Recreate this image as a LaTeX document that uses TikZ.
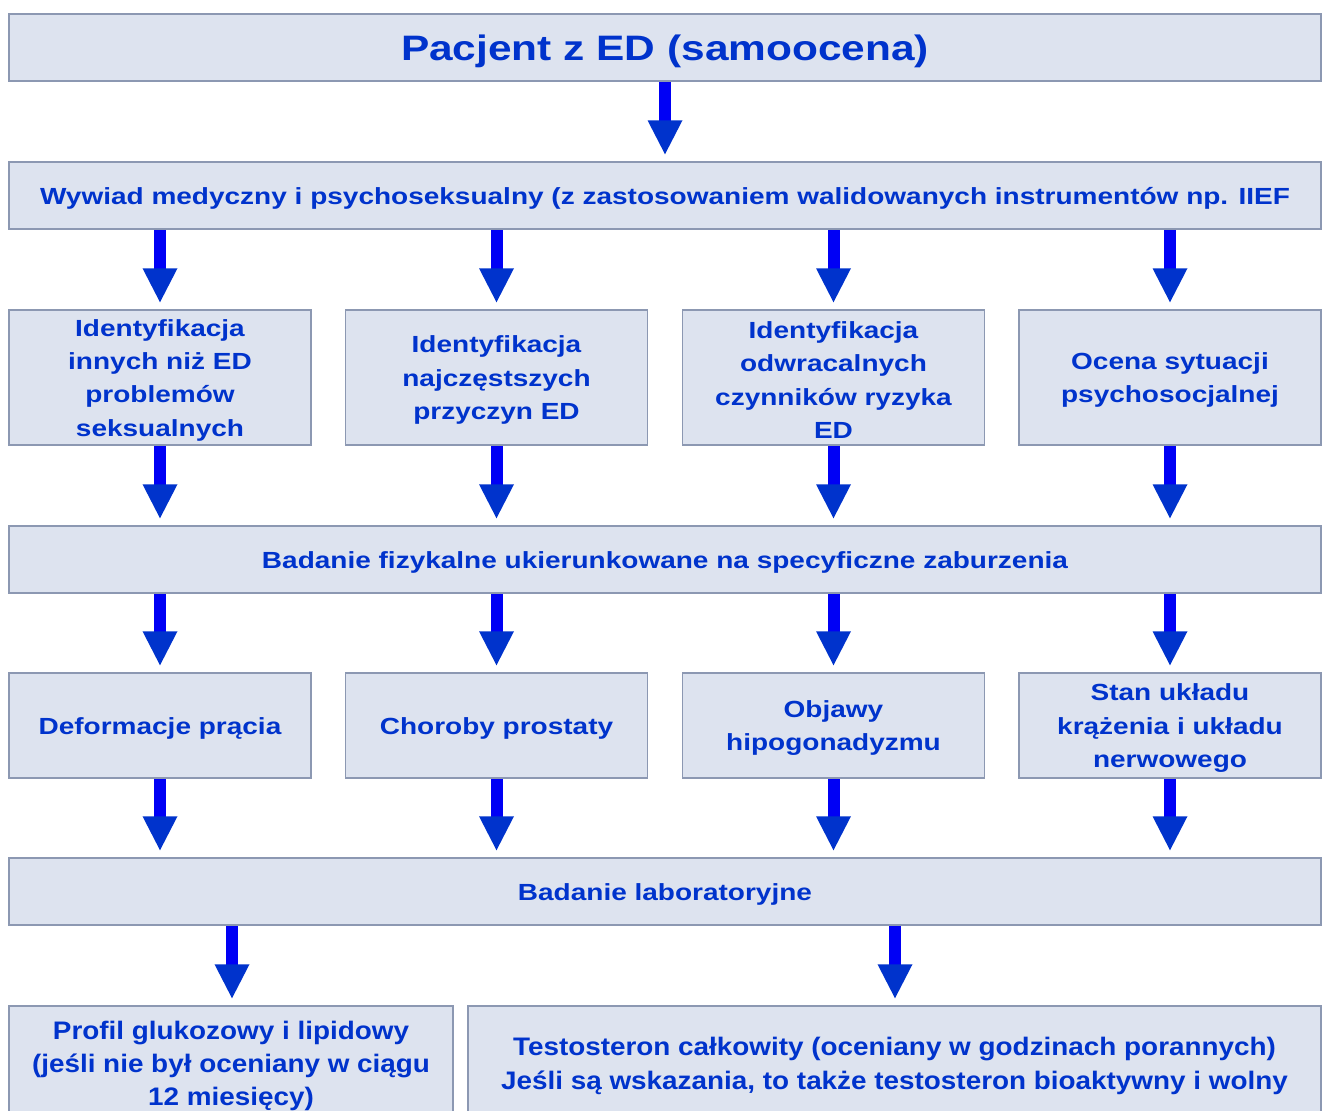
\documentclass[tikz,border=0pt]{standalone}
\usepackage{fontspec}
\setmainfont[FakeStretch=1.2]{Liberation Sans}
\newfontfamily\lowfont[FakeStretch=1.1]{Liberation Sans}
\usetikzlibrary{calc}
\definecolor{boxfill}{RGB}{221,227,239}
\definecolor{boxline}{RGB}{140,152,178}
\definecolor{txtblue}{RGB}{0,51,204}
\definecolor{shaftblue}{RGB}{0,0,245}
\definecolor{headblue}{RGB}{0,51,204}
\newcommand\fl{\rule{0pt}{0.95em}}
\newcommand\flowarrow[2]{%
  \coordinate (fa-s) at (#1);
  \coordinate (fa-e) at (#2);
  \fill[shaftblue] ($(fa-s)+(-6,0)$) rectangle ($(fa-e)+(6,-33)$);
  \fill[headblue] ($(fa-e)+(-17.5,-34)$) -- ($(fa-e)+(17.5,-34)$) -- (fa-e) -- cycle;
}
\begin{document}
\begin{tikzpicture}[x=0.75pt,y=-0.75pt,
  box/.style={draw=boxline, line width=1.1pt, fill=boxfill, text=txtblue,
    font=\bfseries\fontsize{17.5}{25}\selectfont, align=center, inner sep=0pt,
    execute at begin node={\fl}},
  widebox/.style={box, minimum width=1312*0.75pt, minimum height=67*0.75pt},
  colbox/.style={box, minimum width=302*0.75pt, minimum height=#1*0.75pt},
  lowbox/.style={box, minimum height=114*0.75pt, font=\lowfont\bfseries\fontsize{19}{25}\selectfont}]
\useasboundingbox (0,0) rectangle (1322,1111);
\clip (0,0) rectangle (1322,1111);
\fill[white] (0,0) rectangle (1322,1111);

\node[widebox, font=\bfseries\fontsize{26.5}{32}\selectfont] (b1) at (665,47.5) {Pacjent z ED (samoocena)};
\node[widebox] (b2) at (665,195.5) {Wywiad medyczny i psychoseksualny (z zastosowaniem walidowanych instrumentów np. IIEF};

\node[colbox=135] (r11) at (160,377.5) {\fl Identyfikacja\\innych niż ED\\problemów\\seksualnych};
\node[colbox=135] (r12) at (496.5,377.5) {\fl Identyfikacja\\najczęstszych\\przyczyn ED};
\node[colbox=135] (r13) at (833.5,377.5) {\fl Identyfikacja\\odwracalnych\\czynników ryzyka\\ED};
\node[colbox=135] (r14) at (1170,377.5) {\fl Ocena sytuacji\\psychosocjalnej};

\node[widebox] (b3) at (665,559.5) {Badanie fizykalne ukierunkowane na specyficzne zaburzenia};

\node[colbox=105] (r21) at (160,725.5) {Deformacje prącia};
\node[colbox=105] (r22) at (496.5,725.5) {Choroby prostaty};
\node[colbox=105] (r23) at (833.5,725.5) {\fl Objawy\\hipogonadyzmu};
\node[colbox=105] (r24) at (1170,725.5) {\fl Stan układu\\krążenia i układu\\nerwowego};

\node[widebox] (b4) at (665,891.5) {Badanie laboratoryjne};

\node[lowbox, minimum width=444*0.75pt] (l1) at (231,1063) {\fl Profil glukozowy i lipidowy\\(jeśli nie był oceniany w ciągu\\12 miesięcy)};
\node[lowbox, minimum width=853*0.75pt] (l2) at (894.5,1063) {\fl Testosteron całkowity (oceniany w godzinach porannych)\\Jeśli są wskazania, to także testosteron bioaktywny i wolny};

\flowarrow{b1.south}{$(b2.north)+(0,-7)$}
\foreach \n in {r11,r12,r13,r14}{
  \flowarrow{\n.north |- b2.south}{$(\n.north)+(0,-7)$}
}
\foreach \a/\b in {r11/r21,r12/r22,r13/r23,r14/r24}{
  \flowarrow{\a.south}{$(\a.south |- b3.north)+(0,-7)$}
  \flowarrow{\b.north |- b3.south}{$(\b.north)+(0,-7)$}
  \flowarrow{\b.south}{$(\b.south |- b4.north)+(0,-7)$}
}
\flowarrow{b4.south -| 232,0}{$(232,0 |- l1.north)+(0,-7)$}
\flowarrow{b4.south -| 895,0}{$(895,0 |- l2.north)+(0,-7)$}
\end{tikzpicture}
\end{document}
